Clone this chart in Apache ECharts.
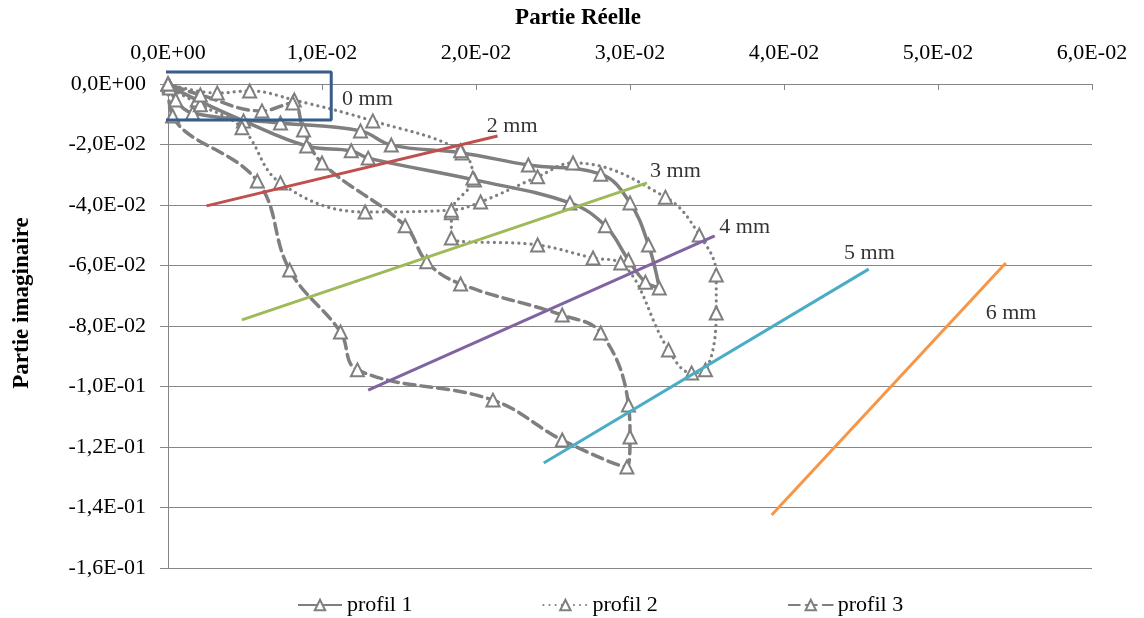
<!DOCTYPE html>
<html>
<head>
<meta charset="utf-8">
<script src="https://cdn.jsdelivr.net/npm/echarts@6/dist/echarts.min.js"></script>
<style>
html,body{margin:0;padding:0;background:#fff;}
#c{width:1144px;height:618px;}
</style>
</head>
<body>
<div id="c"></div>
<script>
// ---- data (Partie Réelle, Partie imaginaire) ----
const xTicks = [0, 0.01, 0.02, 0.03, 0.04, 0.05, 0.06];
const yTicks = [0, -0.02, -0.04, -0.06, -0.08, -0.10, -0.12, -0.14, -0.16];

const profil1 = [
  [0.0001,-0.0007],[0.0019,-0.0053],[0.0049,-0.0122],[0.0090,-0.0205],[0.0119,-0.0221],
  [0.0130,-0.0245],[0.0199,-0.0317],[0.0261,-0.0393],[0.0284,-0.0469],[0.0299,-0.0582],
  [0.0310,-0.0655],[0.0319,-0.0674],[0.0312,-0.0532],[0.0300,-0.0393],[0.0281,-0.0298],
  [0.0234,-0.0268],[0.0191,-0.0228],[0.0145,-0.0202],[0.0125,-0.0155],[0.0073,-0.0129],
  [0.0016,-0.0096],[0.0005,-0.0053],[0.0001,-0.0007]
];
const profil2 = [
  [0.0000,0.0000],[0.0032,-0.0030],[0.0053,-0.0023],[0.0082,-0.0053],[0.0133,-0.0122],
  [0.0190,-0.0221],[0.0198,-0.0311],[0.0184,-0.0426],[0.0184,-0.0509],[0.0240,-0.0532],
  [0.0276,-0.0575],[0.0294,-0.0592],[0.0325,-0.0879],[0.0340,-0.0955],[0.0349,-0.0945],
  [0.0356,-0.0757],[0.0356,-0.0631],[0.0345,-0.0499],[0.0323,-0.0374],[0.0263,-0.0261],
  [0.0240,-0.0307],[0.0203,-0.0390],[0.0184,-0.0417],[0.0128,-0.0423],[0.0073,-0.0327],
  [0.0048,-0.0145],[0.0021,-0.0069],[0.0001,-0.0013]
];
const profil3 = [
  [0.0000,0.0000],[0.0003,-0.0106],[0.0058,-0.0321],[0.0079,-0.0615],[0.0112,-0.0820],
  [0.0123,-0.0945],[0.0211,-0.1045],[0.0256,-0.1177],[0.0298,-0.1266],[0.0300,-0.1167],
  [0.0299,-0.1061],[0.0281,-0.0823],[0.0256,-0.0764],[0.0190,-0.0661],[0.0168,-0.0588],
  [0.0154,-0.0469],[0.0100,-0.0261],[0.0088,-0.0152],[0.0081,-0.0063],[0.0061,-0.0089],
  [0.0021,-0.0036],[0.0000,0.0000]
];
const line2mm = [[0.0025,-0.0403],[0.0214,-0.0172]];
const line3mm = [[0.0048,-0.0780],[0.0311,-0.0327]];
const line4mm = [[0.0130,-0.1012],[0.0355,-0.0502]];
const line5mm = [[0.0244,-0.1253],[0.0455,-0.0612]];
const line6mm = [[0.0392,-0.1425],[0.0544,-0.0592]];
const zoomBox = [[-0.0004,0.0040],[0.0106,0.0040],[0.0106,-0.0119],[-0.0004,-0.0119],[-0.0004,0.0040]];
const annotText = ['0 mm','2 mm','3 mm','4 mm','5 mm','6 mm'];
const annotPos = [[0.0113,-0.0050],[0.0207,-0.0139],[0.0313,-0.0288],[0.0358,-0.0473],[0.0439,-0.0559],[0.0531,-0.0757]];

function fmt(v){
  if (Math.abs(v) < 1e-12) return '0,0E+00';
  const s = v.toExponential(1);
  const parts = s.split('e');
  const e = parseInt(parts[1], 10);
  const ea = Math.abs(e);
  return parts[0].replace('.', ',') + 'E' + (e < 0 ? '-' : '+') + (ea < 10 ? '0' : '') + ea;
}

const FONT = 'Liberation Serif';
const GREY = '#7f7f7f';

const chart = echarts.init(document.getElementById('c'), null, {renderer:'canvas'});

function profSeries(name, data, type, width){
  return {
    name: name, type: 'line', data: data, smooth: 0.4,
    symbol: 'emptyTriangle', symbolSize: 13, showAllSymbol: true,
    itemStyle: {color: GREY, borderColor: GREY, borderWidth: 1.3},
    lineStyle: {color: GREY, width: width, type: type, cap: type === 'solid' ? 'butt' : 'round'},
    z: 3
  };
}
function straight(data, color){
  return {
    type: 'line', data: data, symbol: 'none', silent: true,
    lineStyle: {color: color, width: 3}, z: 4
  };
}

chart.setOption({
  animation: false,
  backgroundColor: '#fff',
  textStyle: {fontFamily: FONT, color: '#000'},
  grid: {left: 168, right: 52, top: 84, bottom: 50},
  legend: {
    data: ['profil 1','profil 2','profil 3'],
    bottom: -3, left: 292, itemGap: 130, itemWidth: 44, itemHeight: 13,
    textStyle: {fontFamily: FONT, fontSize: 22, color: '#000'}
  },
  xAxis: {
    type: 'value', position: 'top', min: xTicks[0], max: xTicks[xTicks.length-1], interval: 0.01,
    name: 'Partie Réelle', nameLocation: 'middle', nameGap: 54,
    nameTextStyle: {fontFamily: FONT, fontSize: 23, fontWeight: 'bold', color: '#000', padding: [0,104,0,0]},
    axisLine: {show: true, onZero: false, lineStyle: {color: '#868686', width: 1}},
    axisTick: {show: true, inside: true, length: 6, lineStyle: {color: '#868686'}},
    axisLabel: {fontFamily: FONT, fontSize: 22, color: '#000', margin: 20, formatter: fmt},
    splitLine: {show: false}
  },
  yAxis: {
    type: 'value', min: yTicks[yTicks.length-1], max: yTicks[0], interval: 0.02,
    name: 'Partie imaginaire', nameLocation: 'middle', nameGap: 134,
    nameTextStyle: {fontFamily: FONT, fontSize: 23, fontWeight: 'bold', color: '#000', padding: [0,0,0,46]},
    axisLine: {show: true, onZero: false, lineStyle: {color: '#868686', width: 1}},
    axisTick: {show: true, inside: false, length: 8, lineStyle: {color: '#868686'}},
    axisLabel: {fontFamily: FONT, fontSize: 22, color: '#000', margin: 22, formatter: fmt},
    splitLine: {show: true, lineStyle: {color: '#868686', width: 1}}
  },
  series: [
    profSeries('profil 1', profil1, 'solid', 3.5),
    profSeries('profil 2', profil2, [0.1, 6], 3.2),
    profSeries('profil 3', profil3, [11, 6], 3.5),
    straight(line2mm, '#c0504d'),
    straight(line3mm, '#9bbb59'),
    straight(line4mm, '#8064a2'),
    straight(line5mm, '#4bacc6'),
    straight(line6mm, '#f79646'),
    {
      type: 'line', data: zoomBox, symbol: 'none', clip: false, silent: true,
      lineStyle: {color: '#385d8a', width: 3}, z: 5
    },
    {
      type: 'scatter', symbolSize: 0, silent: true, z: 6,
      data: annotPos.map((p, i) => ({value: p, name: annotText[i]})),
      label: {show: true, position: 'right', distance: 0, formatter: p => p.name,
              fontFamily: FONT, fontSize: 22, color: '#000'}
    }
  ]
});
</script>
</body>
</html>
